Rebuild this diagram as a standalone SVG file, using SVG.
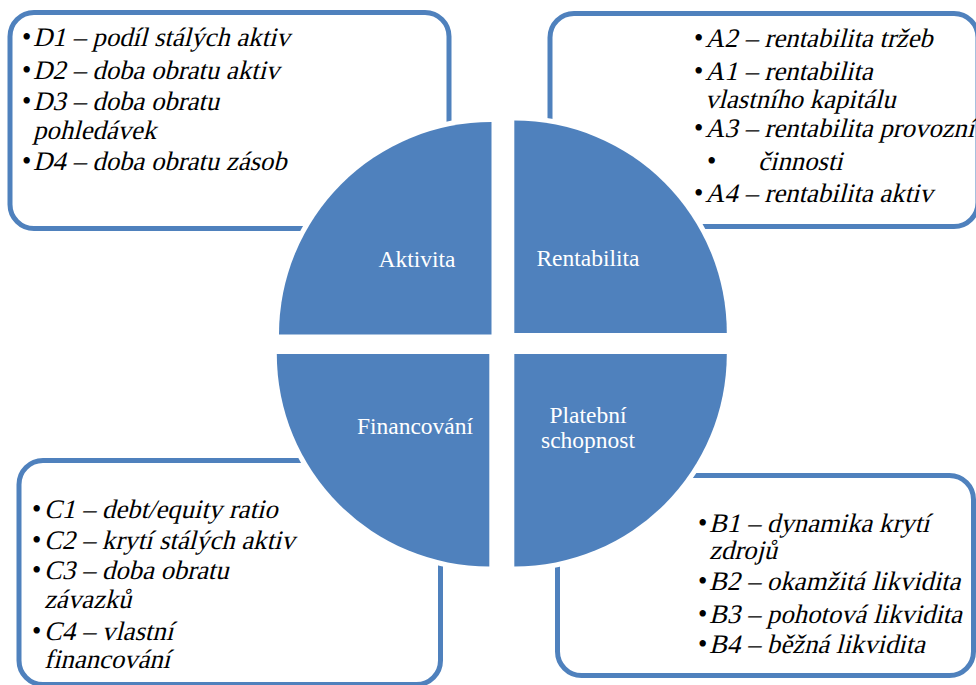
<svg xmlns="http://www.w3.org/2000/svg" width="976" height="685" viewBox="0 0 976 685">
  <style>
    .box { fill: #ffffff; stroke: #4f81bd; stroke-width: 5; }
    .quad { fill: #4f81bd; stroke: #ffffff; stroke-width: 10; paint-order: stroke; stroke-linejoin: miter; }
    .lbl { font-family: "Liberation Serif", "Times New Roman", serif; font-size: 23.5px; fill: #ffffff; text-anchor: middle; }
    /* slanted serif for list items (upright face sheared, applied per line via transform) */
    .item { font-family: "Liberation Serif", "Times New Roman", serif; font-size: 26.7px; fill: #000000; }
    .dot { font-family: "Liberation Serif", "Times New Roman", serif; font-size: 26.7px; fill: #000000; }
  </style>

  <rect width="976" height="685" fill="#ffffff"/>

  <!-- text panels behind the circle -->
  <g id="panel-aktivita">
    <rect class="box" x="10" y="12.5" width="439" height="216" rx="24"/>
    <text class="dot" x="22" y="46">•</text><text class="item" transform="translate(33 46) skewX(-14)">D1 – podíl stálých aktiv</text>
    <text class="dot" x="22" y="78.5">•</text><text class="item" transform="translate(33 78.5) skewX(-14)">D2 – doba obratu aktiv</text>
    <text class="dot" x="22" y="110">•</text><text class="item" transform="translate(33 110) skewX(-14)">D3 – doba obratu</text>
    <text class="item" transform="translate(33 138.5) skewX(-14)">pohledávek</text>
    <text class="dot" x="22" y="170">•</text><text class="item" transform="translate(33 170) skewX(-14)">D4 – doba obratu zásob</text>
  </g>

  <g id="panel-rentabilita">
    <rect class="box" x="550" y="13.5" width="428" height="213" rx="24"/>
    <text class="dot" x="694" y="46.5">•</text><text class="item" transform="translate(705 46.5) skewX(-14)">A2 – rentabilita tržeb</text>
    <text class="dot" x="694" y="80">•</text><text class="item" transform="translate(705 80) skewX(-14)">A1 – rentabilita</text>
    <text class="item" transform="translate(705 107.5) skewX(-14)">vlastního kapitálu</text>
    <text class="dot" x="694" y="136.5">•</text><text class="item" transform="translate(705 136.5) skewX(-14)">A3 – rentabilita provozní</text>
    <text class="dot" x="707" y="170">•</text><text class="item" transform="translate(758 170) skewX(-14)">činnosti</text>
    <text class="dot" x="694" y="201.5">•</text><text class="item" transform="translate(705 201.5) skewX(-14)">A4 – rentabilita aktiv</text>
  </g>

  <g id="panel-financovani">
    <rect class="box" x="19" y="460.5" width="421.5" height="224" rx="24"/>
    <text class="dot" x="32" y="518">•</text><text class="item" transform="translate(44 518) skewX(-14)">C1 – debt/equity ratio</text>
    <text class="dot" x="32" y="548.5">•</text><text class="item" transform="translate(44 548.5) skewX(-14)">C2 – krytí stálých aktiv</text>
    <text class="dot" x="32" y="578.5">•</text><text class="item" transform="translate(44 578.5) skewX(-14)">C3 – doba obratu</text>
    <text class="item" transform="translate(44 608) skewX(-14)">závazků</text>
    <text class="dot" x="32" y="640">•</text><text class="item" transform="translate(44 640) skewX(-14)">C4 – vlastní</text>
    <text class="item" transform="translate(44 668) skewX(-14)">financování</text>
  </g>

  <g id="panel-platebni">
    <rect class="box" x="557.5" y="475.5" width="416" height="200" rx="24"/>
    <text class="dot" x="698" y="531.5">•</text><text class="item" transform="translate(709 531.5) skewX(-14)">B1 – dynamika krytí</text>
    <text class="item" transform="translate(709 558.5) skewX(-14)">zdrojů</text>
    <text class="dot" x="698" y="590">•</text><text class="item" transform="translate(709 590) skewX(-14)">B2 – okamžitá likvidita</text>
    <text class="dot" x="698" y="623">•</text><text class="item" transform="translate(709 623) skewX(-14)">B3 – pohotová likvidita</text>
    <text class="dot" x="698" y="653">•</text><text class="item" transform="translate(709 653) skewX(-14)">B4 – běžná likvidita</text>
  </g>

  <!-- four quarter-circle segments -->
  <g id="q-aktivita">
    <path class="quad" d="M491.5,334.5 L279,334.5 A212.5,212.5 0 0 1 491.5,122 Z"/>
    <text class="lbl" x="417" y="267">Aktivita</text>
  </g>
  <g id="q-rentabilita">
    <path class="quad" d="M514.3,333 L514.3,120.5 A212.5,212.5 0 0 1 726.8,333 Z"/>
    <text class="lbl" x="588" y="265.5">Rentabilita</text>
  </g>
  <g id="q-financovani">
    <path class="quad" d="M489.3,354 L489.3,566.5 A212.5,212.5 0 0 1 276.8,354 Z"/>
    <text class="lbl" x="415" y="434">Financování</text>
  </g>
  <g id="q-platebni">
    <path class="quad" d="M514.3,354 L726.8,354 A212.5,212.5 0 0 1 514.3,566.5 Z"/>
    <text class="lbl" x="588" y="422.5">Platební</text>
    <text class="lbl" x="588" y="447.5">schopnost</text>
  </g>

  <g id="connectors"/>
</svg>
